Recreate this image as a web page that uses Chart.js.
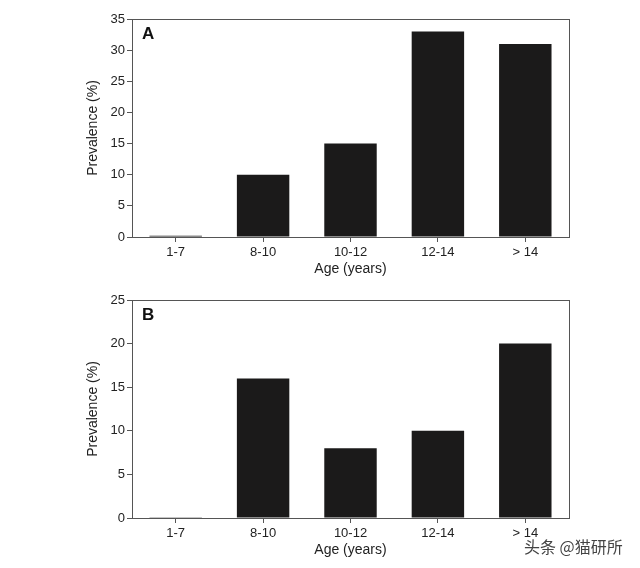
<!DOCTYPE html>
<html>
<head>
<meta charset="utf-8">
<script src="https://cdn.jsdelivr.net/npm/chart.js@4"></script>
<style>
  body { margin: 0; background: #fff; }
  .panel { position: absolute; left: 0; width: 640px; }
  #wm { position: absolute; left: 524px; top: 534px; font: 16px "Noto Sans CJK SC"; color: #444; text-shadow: 0 0 2px #fff; }
</style>
</head>
<body>
<div class="panel" style="top:0;height:284px"><canvas id="chartA"></canvas></div>
<div class="panel" style="top:281px;height:284px"><canvas id="chartB"></canvas></div>
<div id="wm">头条 @猫研所</div>
<script>
// age groups and prevalence for the two panels
let ageGroups = ["1-7", "8-10", "10-12", "12-14", "> 14"];
let prevalenceA = [0.2, 10, 15, 33, 31];
let prevalenceB = [0.1, 16, 8, 10, 20];
let ticksA = { max: 35, step: 5 };
let ticksB = { max: 25, step: 5 };

Chart.defaults.font.family = "'Liberation Sans', Arial, sans-serif";
Chart.defaults.color = "#222";

function boxPlugin(letter) {
  return {
    id: 'box' + letter,
    afterDraw(chart) {
      let c = chart.ctx, a = chart.chartArea;
      c.save();
      c.strokeStyle = "#555";
      c.lineWidth = 1;
      c.strokeRect(Math.round(a.left) + 0.5, Math.round(a.top) + 0.5, Math.round(a.right - a.left), Math.round(a.bottom - a.top));
      c.fillStyle = "#111";
      c.font = "bold 17px 'Liberation Sans', Arial, sans-serif";
      c.textBaseline = "middle";
      c.fillText(letter, a.left + 10, a.top + 15);
      c.restore();
    }
  };
}

function makeChart(id, values, ticks, letter) {
  let ctx = document.getElementById(id);
  return new Chart(ctx, {
    type: 'bar',
    data: {
      labels: ageGroups,
      datasets: [{
        data: values,
        backgroundColor: "#1b1a1a",
        barPercentage: 0.6,
        categoryPercentage: 1.0
      }]
    },
    options: {
      responsive: true,
      maintainAspectRatio: false,
      animation: false,
      layout: { padding: { left: 85, right: 71, top: 19, bottom: 6 } },
      plugins: { legend: { display: false }, tooltip: { enabled: false } },
      scales: {
        x: {
          grid: { offset: false, drawOnChartArea: false, drawTicks: true, tickLength: 5, color: "#555" },
          border: { display: false },
          ticks: { font: { size: 13 }, padding: 3, maxRotation: 0 },
          title: { display: true, text: "Age (years)", font: { size: 14 }, padding: { top: 0, bottom: 0 } },
          afterFit(scale) { scale.height = 41; }
        },
        y: {
          min: 0,
          max: ticks.max,
          grid: { drawOnChartArea: false, drawTicks: true, tickLength: 5, color: "#555" },
          border: { display: false },
          ticks: { stepSize: ticks.step, font: { size: 13 }, padding: 2 },
          title: { display: true, text: "Prevalence (%)", font: { size: 14 }, padding: { top: 0, bottom: 4 } },
          afterFit(scale) { scale.width = 47; }
        }
      }
    },
    plugins: [boxPlugin(letter)]
  });
}

makeChart("chartA", prevalenceA, ticksA, "A");
makeChart("chartB", prevalenceB, ticksB, "B");
</script>
</body>
</html>
